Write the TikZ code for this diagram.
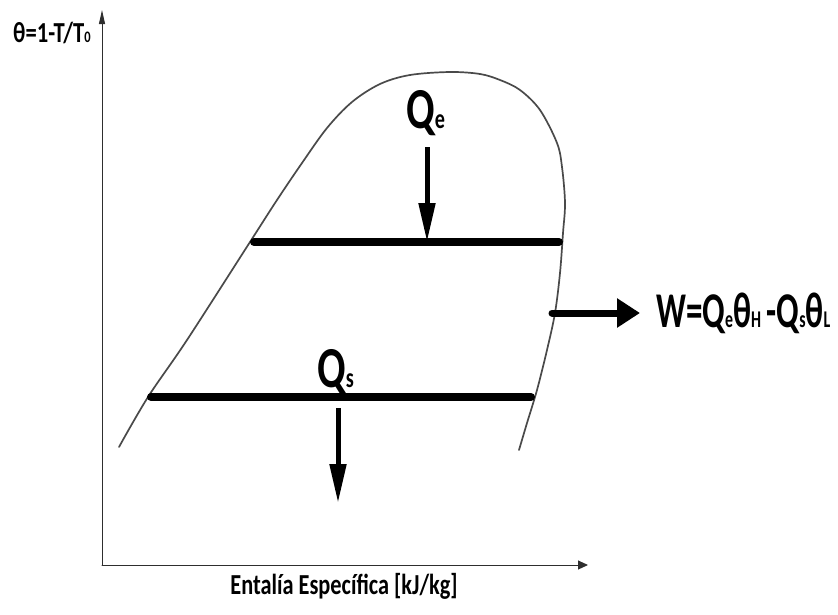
\documentclass[tikz,border=0pt]{standalone}
\usepackage{fontspec}
\setmainfont{Carlito}
\usetikzlibrary{arrows.meta, calc}
\definecolor{dome}{HTML}{4A4A4A}
\definecolor{axgray}{HTML}{2E2E2E}
\tikzset{el/.style={line cap=round, line join=round},
  bar/.style={line width=8pt, line cap=round},
  heat/.style={line width=5pt, line cap=butt, -{Triangle[width=16pt, length=39pt]}},
  lbl/.style={inner sep=0pt, font=\bfseries}}
\newcommand\sqz[2]{\scalebox{#1}[1]{#2}}
\newcommand\lsub[2]{{\fontsize{#1}{#1}\selectfont #2}}

\begin{document}
\begin{tikzpicture}[x=1pt, y=-1pt, el]
  \useasboundingbox (0,0) rectangle (838,614);
  % axes
  \coordinate (o) at (102,565); \coordinate (ytip) at (102,10); \coordinate (xtip) at (588,565);
  \draw[axgray, line width=1pt, -{Triangle[width=6pt, length=14pt]}] (o) -- (ytip);
  \draw[axgray, line width=1pt, -{Triangle[width=9pt, length=10pt]}] (o) -- (xtip);
  \node[lbl, anchor=base west] (ylab) at (13,42) {\fontsize{29}{29}\selectfont\sqz{.78}{θ=1-T/T\lsub{16}{0}}};
  \node[lbl, anchor=base] (xlab) at (344,594) {\fontsize{29}{29}\selectfont\sqz{.77}{Entalía Específica [kJ/kg]}};
  % saturation dome
  \draw[dome, line width=1.7pt] plot[smooth, tension=.55] coordinates {(119,447) (148,397) (187,340) (250,242) (277,200)
     (302,163) (327,128) (352,102) (380,84) (410,75) (450,72) (480,74) (500,80) (520,90) (540,110) (557,143)
     (562,167) (565,203) (563,233) (560,273) (555,313) (547,350) (537,390) (527,423) (519,450)};
  % lines of constant theta
  \coordinate (e1) at (254,242); \coordinate (e2) at (559,242);
  \coordinate (s1) at (151,397); \coordinate (s2) at (531,397);
  \draw[bar] (e1) -- (e2);
  \draw[bar] (s1) -- (s2);
  % heat in, heat out, work
  \node[lbl, anchor=base west] (qe) at (406,128) {\fontsize{58}{58}\selectfont\sqz{.72}{Q\lsub{28}{e}}};
  \node[lbl, anchor=base west] (qs) at (317,387) {\fontsize{58}{58}\selectfont\sqz{.72}{Q\lsub{28}{s}}};
  \coordinate (qea) at (427,147); \coordinate (qsa) at (338,408); \coordinate (qsb) at (338,503);
  \draw[heat] (qea) -- (qea |- e1);
  \draw[heat] (qsa) -- (qsb);
  \coordinate (w1) at (552,313); \coordinate (w2) at (640,313);
  \draw[line width=7pt, -{Triangle[width=28pt, length=23pt]}] (w1) -- (w2);
  \node[lbl, anchor=base west] (wlab) at (656,327) {\fontsize{50}{50}\selectfont\sqz{.66}{W=Q\lsub{24}{e}θ\lsub{24}{H}\,-Q\lsub{24}{s}θ\lsub{24}{L}}};
\end{tikzpicture}
\end{document}
